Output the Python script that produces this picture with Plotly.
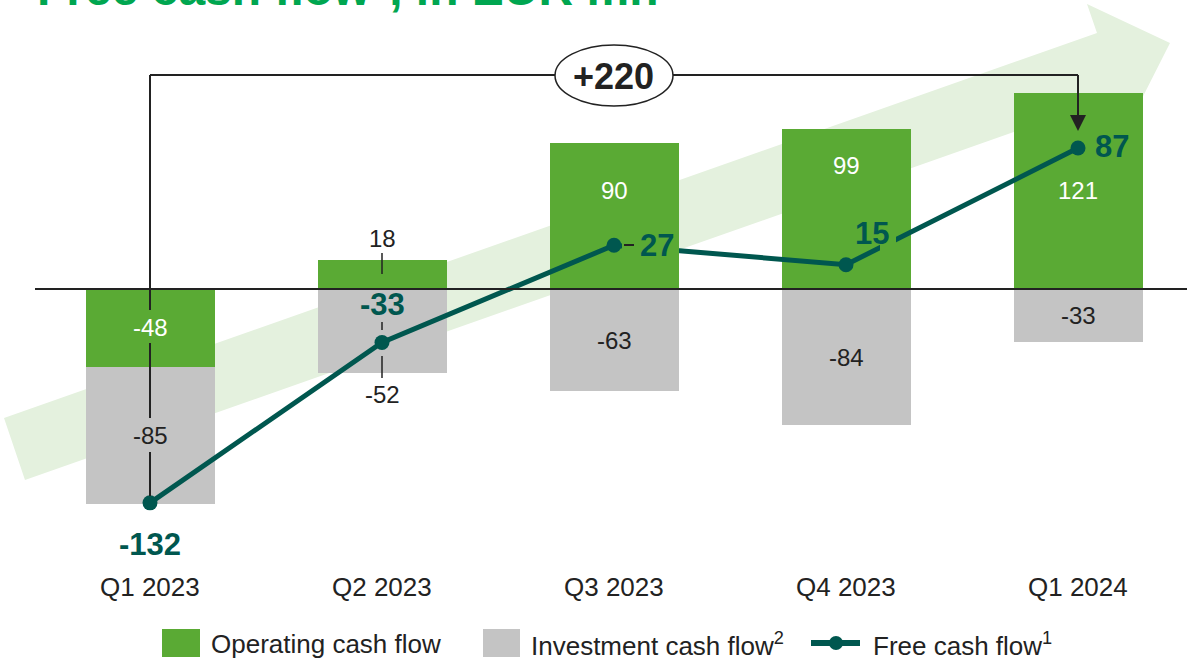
import plotly.graph_objects as go

# ---------------- data ----------------
categories = ["Q1 2023", "Q2 2023", "Q3 2023", "Q4 2023", "Q1 2024"]
operating_cf = [-48, 18, 90, 99, 121]
investment_cf = [-85, -52, -63, -84, -33]
free_cf = [-132, -33, 27, 15, 87]
delta_label = "+220"

# ---------------- styling ----------------
GREEN = "#5AAA34"
GRAY = "#C4C4C4"
TEAL = "#00574F"
DARK = "#222222"
TITLE_GREEN = "#00A650"
BG_ARROW = "#E4F1DE"
FONT = "Liberation Sans, Arial, sans-serif"

W, H = 1187, 661
PX_PER_UNIT = 1.62      # vertical pixels per EUR mn
Y0_PX = 289             # pixel row of the zero line
X0_PX, DX_PX = 150, 232  # pixel column of first category and spacing


def y_of(py):
    return (Y0_PX - py) / PX_PER_UNIT


def x_of(px):
    return (px - X0_PX) / DX_PX


def pxp(px):
    return px / W


def pyp(py):
    return 1 - py / H


xs = list(range(len(categories)))

fig = go.Figure()
fig.add_trace(go.Bar(x=xs, y=operating_cf, name="Operating cash flow",
                     marker=dict(color=GREEN, line=dict(width=0)), width=0.556))
fig.add_trace(go.Bar(x=xs, y=investment_cf, name="Investment cash flow",
                     marker=dict(color=GRAY, line=dict(width=0)), width=0.556))
fig.add_trace(go.Scatter(x=xs, y=free_cf, mode="lines+markers", name="Free cash flow",
                         line=dict(color=TEAL, width=5),
                         marker=dict(color=TEAL, size=15)))

shapes = []
# big light-green background arrow (decoration, paper pixels)
arrow_pts = [(4, 418), (1097, 33), (1087, 4), (1170, 43), (1129, 124), (1119, 95), (25, 480)]
path = "M " + " L ".join(f"{pxp(a):.5f},{pyp(b):.5f}" for a, b in arrow_pts) + " Z"
shapes.append(dict(type="path", path=path, xref="paper", yref="paper",
                   fillcolor=BG_ARROW, line=dict(width=0), layer="below"))

# zero line
shapes.append(dict(type="line", x0=x_of(35), x1=x_of(W + 5), y0=0, y1=0,
                   line=dict(color=DARK, width=2), layer="above"))

# masks hiding line behind the "27" and "15" labels
shapes.append(dict(type="rect", x0=x_of(622), x1=x_of(679), y0=y_of(258), y1=y_of(232),
                   fillcolor=GREEN, line=dict(width=0), layer="above"))
shapes.append(dict(type="line", x0=x_of(624), x1=x_of(634), y0=y_of(245), y1=y_of(245),
                   line=dict(color=DARK, width=2), layer="above"))
shapes.append(dict(type="rect", x0=x_of(880), x1=x_of(896), y0=y_of(253), y1=y_of(228),
                   fillcolor=GREEN, line=dict(width=0), layer="above"))

# bracket from Q1 2023 to Q1 2024
top_y = y_of(75)
for a, b in [(75, 310), (343, 418), (452, 496)]:
    shapes.append(dict(type="line", x0=0, x1=0, y0=y_of(a), y1=y_of(b),
                       line=dict(color=DARK, width=2), layer="above"))
shapes.append(dict(type="line", x0=0, x1=4, y0=top_y, y1=top_y,
                   line=dict(color=DARK, width=2), layer="above"))
shapes.append(dict(type="line", x0=4, x1=4, y0=top_y, y1=y_of(116),
                   line=dict(color=DARK, width=2), layer="above"))
tri = (f"M {x_of(1070):.5f},{y_of(115):.4f} L {x_of(1086):.5f},{y_of(115):.4f} "
       f"L {x_of(1078):.5f},{y_of(131):.4f} Z")
shapes.append(dict(type="path", path=tri, fillcolor=DARK, line=dict(width=0), layer="above"))
# ellipse with total change
shapes.append(dict(type="circle", xref="paper", yref="paper",
                   x0=pxp(555), x1=pxp(673), y0=pyp(45), y1=pyp(106),
                   fillcolor="white", line=dict(color=DARK, width=1.5), layer="above"))

# Q2 leader ticks
for a, b in [(253, 274), (322, 330), (356, 378)]:
    shapes.append(dict(type="line", x0=1, x1=1, y0=y_of(a), y1=y_of(b),
                       line=dict(color=DARK, width=1.5), layer="above"))

# manual legend
shapes.append(dict(type="rect", xref="paper", yref="paper", x0=pxp(162), x1=pxp(200),
                   y0=pyp(629), y1=pyp(657), fillcolor=GREEN, line=dict(width=0)))
shapes.append(dict(type="rect", xref="paper", yref="paper", x0=pxp(483), x1=pxp(520),
                   y0=pyp(629), y1=pyp(657), fillcolor=GRAY, line=dict(width=0)))
shapes.append(dict(type="line", xref="paper", yref="paper", x0=pxp(811), x1=pxp(860),
                   y0=pyp(643), y1=pyp(643), line=dict(color=TEAL, width=6)))
shapes.append(dict(type="circle", xref="paper", yref="paper", x0=pxp(829), x1=pxp(843),
                   y0=pyp(636), y1=pyp(650), fillcolor=TEAL, line=dict(width=0)))

ann = []


def txt(x, y, text, color=DARK, size=24, bold=False, **kw):
    d = dict(x=x, y=y, text=text, showarrow=False, xanchor="center", yanchor="middle",
             font=dict(family=FONT, size=size, color=color,
                       weight="bold" if bold else "normal"))
    d.update(kw)
    ann.append(d)


# segment value labels
seg_shift_op = [0, 0, 26, 43, 0]   # pixel lifts where the bar label is moved up
for i, v in enumerate(operating_cf):
    if i == 1:
        txt(i, v, f"{v}", yshift=21)
    else:
        txt(i, v / 2, f"{v}", color="white", yshift=seg_shift_op[i])
for i, v in enumerate(investment_cf):
    base = min(operating_cf[i], 0)
    if i == 1:
        txt(i, v, f"{v}", yshift=-21)
    else:
        txt(i, base + v / 2, f"{v}")

# free cash flow labels
fcf_offsets = [(0, -42), (0, 38), (43, 0), (26, 31), (34, 2)]
for i, v in enumerate(free_cf):
    dx, dy = fcf_offsets[i]
    txt(i, v, f"{v}", color=TEAL, size=31, bold=True, xshift=dx, yshift=dy)

# category labels
for i, c in enumerate(categories):
    txt(i, y_of(587), c, size=26)

# total change
txt(pxp(614), pyp(76), delta_label, size=36, bold=True, xref="paper", yref="paper")

# title (partially cut at the top, as in the source slide)
txt(pxp(35), pyp(17), "Free cash flow<sup>1</sup>, in EUR mn", color=TITLE_GREEN,
    size=48, bold=True, xref="paper", yref="paper", xanchor="left", yanchor="bottom")

# legend texts
for xpx, t in [(209, "Operating cash flow"), (529, "Investment cash flow<sup>2</sup>"),
               (871, "Free cash flow<sup>1</sup>")]:
    txt(pxp(xpx), pyp(644), t, size=26, xref="paper", yref="paper", xanchor="left")

fig.update_layout(
    width=W, height=H, margin=dict(l=0, r=0, t=0, b=0),
    paper_bgcolor="white", plot_bgcolor="rgba(0,0,0,0)",
    barmode="relative", bargap=0, showlegend=False,
    xaxis=dict(range=[x_of(0), x_of(W)], visible=False, fixedrange=True),
    yaxis=dict(range=[y_of(H), y_of(0)], visible=False, fixedrange=True),
    shapes=shapes, annotations=ann,
)

fig.write_html("out.html", config={"displayModeBar": False},
               post_script="document.body.style.margin='0';document.body.style.overflow='hidden';")
